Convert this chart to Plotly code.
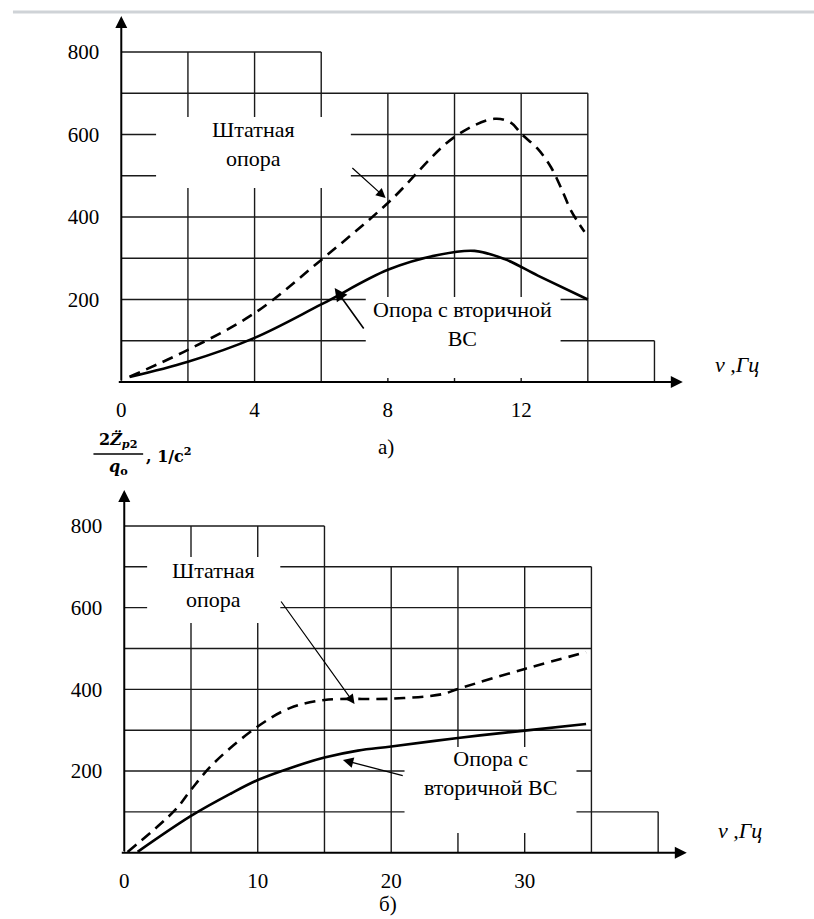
import plotly.graph_objects as go

W, H = 814, 919

# ---------------- data: panel a) ----------------
a_freq_dash = [0.25, 2, 4, 6, 8, 10, 11.2, 11.7, 12.0, 12.5, 12.9, 13.2, 13.5, 13.9]
a_val_dash = [13, 78, 167, 296, 434, 594, 638, 628, 602, 565, 520, 470, 415, 364]
a_freq_solid = [0.25, 2, 4, 6, 8, 9.5, 10.6, 11.5, 12.5, 14]
a_val_solid = [12, 49, 107, 188, 272, 308, 318, 298, 258, 200]
a_xticks = [0, 4, 8, 12]
a_xgrid = [0, 2, 4, 6, 8, 10, 12, 14]

# ---------------- data: panel б) ----------------
b_freq_dash = [0.25, 3.8, 5, 6.7, 10, 12.4, 15, 20, 23.8, 25, 30, 34.6]
b_val_dash = [2, 104, 154, 219, 309, 354, 374, 377, 388, 401, 450, 491]
b_freq_solid = [1, 5, 8, 10, 12.4, 15, 17.5, 20, 25, 30, 34.6]
b_val_solid = [2, 90, 145, 178, 207, 233, 250, 260, 281, 299, 315]
b_xticks = [0, 10, 20, 30]
b_xgrid = [0, 5, 10, 15, 20, 25, 30, 35]

yticks = [200, 400, 600, 800]
ygrid = [0, 100, 200, 300, 400, 500, 600, 700]

lbl_std = "Штатная<br>опора"
lbl_sec_a = "Опора с вторичной<br>ВС"
lbl_sec_b = "Опора с<br>вторичной ВС"
x_title = "<i>v ,Гц</i>"

SERIF = "Liberation Serif, 'Times New Roman', Times, serif"

# pixel geometry of each panel: origin px, px per unit, domain in px
PA = dict(ox=117, kx=33.53, oy=382, ky=0.4125, top=10, right=800)
PB = dict(ox=120, kx=13.43, oy=852.7, ky=0.4084, top=485, right=800)


def xr(p):
    return [0, (p["right"] - p["ox"]) / p["kx"]]


def yr(p):
    return [0, (p["oy"] - p["top"]) / p["ky"]]


def px2x(p, px):
    return (px - p["ox"]) / p["kx"]


def px2y(p, py):
    return (p["oy"] - py) / p["ky"]


fig = go.Figure()

GRID = dict(color="#1a1a1a", width=1.4)
shapes = []
annotations = []


def add_panel(p, xa, ya, xgrid, xstep, cut_boxes):
    xmax_main = xgrid[-1]
    for yv in ygrid:
        shapes.append(dict(type="line", xref=xa, yref=ya, x0=0, x1=xmax_main,
                           y0=yv, y1=yv, line=GRID, layer="below"))
    shapes.append(dict(type="line", xref=xa, yref=ya, x0=0, x1=3 * xstep,
                       y0=800, y1=800, line=GRID, layer="below"))
    for xv in xgrid:
        top = 800 if xv <= 3 * xstep else 700
        shapes.append(dict(type="line", xref=xa, yref=ya, x0=xv, x1=xv,
                           y0=0, y1=top, line=GRID, layer="below"))
    shapes.append(dict(type="line", xref=xa, yref=ya, x0=xmax_main, x1=xmax_main + xstep,
                       y0=100, y1=100, line=GRID, layer="below"))
    shapes.append(dict(type="line", xref=xa, yref=ya, x0=xmax_main + xstep, x1=xmax_main + xstep,
                       y0=0, y1=100, line=GRID, layer="below"))
    for (x0p, x1p, y0p, y1p) in cut_boxes:
        shapes.append(dict(type="rect", xref=xa, yref=ya,
                           x0=px2x(p, x0p), x1=px2x(p, x1p),
                           y0=px2y(p, y1p), y1=px2y(p, y0p),
                           fillcolor="white", line=dict(width=0), layer="below"))


add_panel(PA, "x", "y", a_xgrid, 2, [(152, 348, 117, 188), (363, 559, 297, 378)])
add_panel(PB, "x2", "y2", b_xgrid, 5, [(143, 277, 557, 623), (402, 575, 747, 833)])

DASH = "11px,7px"
for xs, ys, xa, ya, dash in [
    (a_freq_dash, a_val_dash, "x", "y", DASH),
    (a_freq_solid, a_val_solid, "x", "y", None),
    (b_freq_dash, b_val_dash, "x2", "y2", DASH),
    (b_freq_solid, b_val_solid, "x2", "y2", None),
]:
    ln = dict(color="black", width=2.6, shape="spline", smoothing=1.0)
    if dash:
        ln["dash"] = dash
    fig.add_trace(go.Scatter(x=xs, y=ys, mode="lines", xaxis=xa, yaxis=ya,
                             line=ln, showlegend=False, hoverinfo="skip"))


def arrow(xa, ya, tail, head, w=2, size=1.2, headstyle=2):
    annotations.append(dict(xref=xa, yref=ya, axref=xa, ayref=ya,
                            x=head[0], y=head[1], ax=tail[0], ay=tail[1],
                            text="", showarrow=True, arrowhead=headstyle,
                            arrowsize=size, arrowwidth=w, arrowcolor="black"))


# axes arrows
arrow("x", "y", (0, 0), (0, px2y(PA, 16)), w=2, size=1.2)
arrow("x", "y", (-0.12, 0), (px2x(PA, 682), 0), w=2, size=1.2)
arrow("x2", "y2", (0, 0), (0, px2y(PB, 490)), w=2, size=1.2)
arrow("x2", "y2", (-0.3, 0), (px2x(PB, 686), 0), w=2, size=1.2)

# label pointers
arrow("x", "y", (px2x(PA, 348), px2y(PA, 166.7)), (px2x(PA, 383), px2y(PA, 198)), w=1.2, size=1.6)
arrow("x", "y", (px2x(PA, 362), px2y(PA, 330)), (px2x(PA, 331.7), px2y(PA, 288)), w=1.6, size=1.6)
arrow("x2", "y2", (px2x(PB, 276.7), px2y(PB, 600)), (px2x(PB, 351.7), px2y(PB, 704)), w=1.2, size=1.6)
arrow("x2", "y2", (px2x(PB, 401.7), px2y(PB, 776)), (px2x(PB, 340), px2y(PB, 760)), w=1.3, size=1.6)


def label(xa, ya, p, cx, cy, text, size=22):
    annotations.append(dict(xref=xa, yref=ya, x=px2x(p, cx), y=px2y(p, cy), text=text,
                            showarrow=False, xanchor="center", yanchor="middle",
                            font=dict(family=SERIF, size=size, color="black"), align="center"))


label("x", "y", PA, 250, 144, lbl_std)
label("x", "y", PA, 460, 324, lbl_sec_a)
label("x2", "y2", PB, 210, 585, lbl_std)
label("x2", "y2", PB, 488, 773, lbl_sec_b)
label("x", "y", PA, 737, 364, x_title, size=22)
label("x2", "y2", PB, 740, 830, x_title, size=22)


def paper_text(cx, cy, text, size=21, family=SERIF, xanchor="center"):
    annotations.append(dict(xref="paper", yref="paper", x=cx / W, y=1 - cy / H, text=text,
                            showarrow=False, xanchor=xanchor, yanchor="middle",
                            font=dict(family=family, size=size, color="black")))


paper_text(383, 447, "а)")
paper_text(385, 904, "б)")

# y-axis quantity label (fraction)
FF = "'DejaVu Serif', serif"
paper_text(114, 440, "<b>2<i>Z̈</i><sub><i>p</i>2</sub></b>", size=16, family=FF)
paper_text(114, 467, "<b><i>q</i><sub>o</sub></b>", size=16, family=FF)
paper_text(140, 455, "<b>, 1/c<sup>2</sup></b>", size=16, family=FF, xanchor="left")
shapes.append(dict(type="line", xref="paper", yref="paper", x0=89 / W, x1=139 / W,
                   y0=1 - 454 / H, y1=1 - 454 / H, line=dict(color="black", width=1.4)))

# top grey rule
shapes.append(dict(type="line", xref="paper", yref="paper", x0=8 / W, x1=1,
                   y0=1 - 12 / H, y1=1 - 12 / H, line=dict(color="#cfd3d7", width=3)))

TICKF = dict(family=SERIF, size=21, color="black")
common_x = dict(showgrid=False, zeroline=False, showline=False, ticks="",
                tickfont=TICKF, ticklabelstandoff=13, fixedrange=True)
common_y = dict(showgrid=False, zeroline=False, showline=False, ticks="",
                tickfont=TICKF, ticklabelstandoff=21, fixedrange=True,
                tickvals=yticks, ticktext=[str(v) for v in yticks])

fig.update_layout(
    width=W, height=H,
    margin=dict(l=0, r=0, t=0, b=0),
    paper_bgcolor="white", plot_bgcolor="white",
    xaxis=dict(common_x, domain=[PA["ox"] / W, PA["right"] / W], range=xr(PA),
               tickvals=a_xticks, ticktext=[str(v) for v in a_xticks], anchor="y"),
    yaxis=dict(common_y, domain=[1 - PA["oy"] / H, 1 - PA["top"] / H], range=yr(PA), anchor="x"),
    xaxis2=dict(common_x, domain=[PB["ox"] / W, PB["right"] / W], range=xr(PB),
                tickvals=b_xticks, ticktext=[str(v) for v in b_xticks], anchor="y2"),
    yaxis2=dict(common_y, domain=[1 - PB["oy"] / H, 1 - PB["top"] / H], range=yr(PB), anchor="x2"),
    shapes=shapes,
    annotations=annotations,
    showlegend=False,
)

fig.write_html("out.html")
